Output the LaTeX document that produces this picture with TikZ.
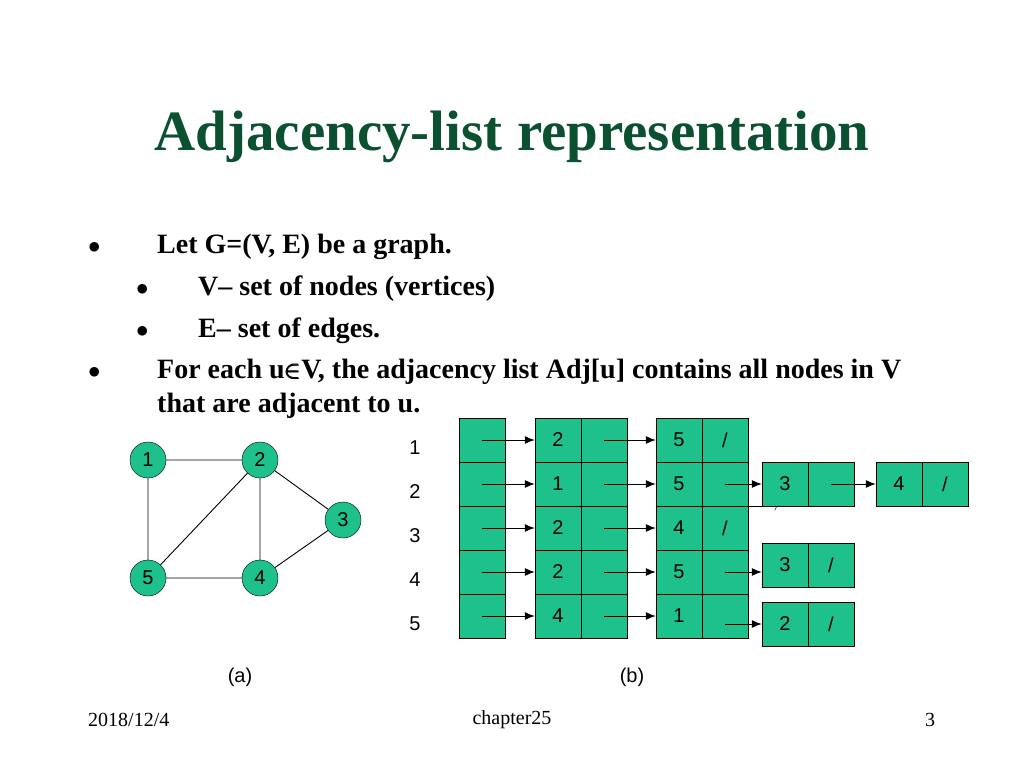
\documentclass[tikz,border=0pt]{standalone}
\usepackage{amsmath}
\usepackage{fontspec}
\setmainfont{Liberation Serif}
\newfontfamily\sans{Liberation Sans}
\usetikzlibrary{arrows.meta}
\definecolor{tgreen}{RGB}{12,80,50}
\definecolor{cellg}{RGB}{30,192,140}
\begin{document}
\begin{tikzpicture}[x=1pt,y=-1pt,
  cell/.style={draw=black,fill=cellg,minimum width=46pt,minimum height=44pt,inner sep=0pt,font=\sans\fontsize{20}{20}\selectfont},
  vert/.style={circle,draw=black,fill=cellg,minimum size=36pt,inner sep=0pt,font=\sans\fontsize{20}{20}\selectfont},
  ptr/.style={-{Latex[length=10pt,width=8pt]},line width=1pt,draw=black},
  edge/.style={line width=0.9pt,draw=black},
  btxt/.style={anchor=base west,font=\fontsize{28}{30}\selectfont\bfseries,inner sep=0pt},
  bul/.style={anchor=base west,font=\fontsize{28}{30}\selectfont,inner sep=0pt},
  lbl/.style={font=\sans\fontsize{20}{20}\selectfont,inner sep=0pt},
  foot/.style={font=\fontsize{20}{20}\selectfont,inner sep=0pt}]
\useasboundingbox (0,0) rectangle (1024,768);
\node[font=\fontsize{57}{57}\selectfont\bfseries,text=tgreen] (title) at (512,137) {Adjacency-list representation};
\node[bul] (b1) at (88,253) {$\bullet$};
\node[btxt] (t1) at (157,253) {Let G=(V, E) be a graph.};
\node[bul] (b2) at (136,295) {$\bullet$};
\node[btxt] (t2) at (198,295) {V– set of nodes (vertices)};
\node[bul] (b3) at (136,337) {$\bullet$};
\node[btxt] (t3) at (198,337) {E– set of edges.};
\node[bul] (b4) at (88,378) {$\bullet$};
\node[btxt] (t4) at (157,378) {For each u$\pmb{\in}$V, the adjacency list Adj[u] contains all nodes in V};
\node[btxt] (t5) at (157,412) {that are adjacent to u.};
% graph
\node[vert] (v1) at (148,460) {1};
\node[vert] (v2) at (260,460) {2};
\node[vert] (v3) at (343,520) {3};
\node[vert] (v4) at (260,578) {4};
\node[vert] (v5) at (148,578) {5};
\draw[edge] (v1)--(v2) (v1)--(v5) (v2)--(v5) (v2)--(v4) (v2)--(v3) (v3)--(v4) (v5)--(v4);
\node[lbl] (la) at (240,677) {(a)};
\node[lbl] (lb) at (632,677) {(b)};
% array
\foreach \i/\y in {1/440,2/484,3/528,4/572,5/616}{
  \node[lbl] (idx\i) at (415,\y+8) {\i};
  \node[cell] (a\i) at (482,\y) {};
}
\foreach \i/\y/\v/\w in {1/440/2/5,2/484/1/5,3/528/2/4,4/572/2/5,5/616/4/1}{
  \node[cell] (p\i) at (558,\y) {\v};
  \node[cell] (q\i) at (604,\y) {};
  \node[cell] (r\i) at (679,\y) {\w};
  \draw[ptr] (a\i.center) -- (p\i.west);
  \draw[ptr] (q\i.center) -- (r\i.west);
}
\node[cell] (s1) at (725,440) {/};
\node[cell] (s3) at (725,528) {/};
\node[cell] (s2) at (725,484) {};
\node[cell] (s4) at (725,572) {};
\node[cell] (s5) at (725,616) {};
\node[cell] (u1) at (785,484) {3};
\node[cell] (u1b) at (831,484) {};
\node[cell] (w1) at (899,484) {4};
\node[cell] (w1b) at (945,484) {/};
\node[cell] (u2) at (785,565) {3};
\node[cell] (u2b) at (831,565) {/};
\node[cell] (u3) at (785,624) {2};
\node[cell] (u3b) at (831,624) {/};
\draw[ptr] (s2.center) -- (u1.west);
\draw[ptr] (u1b.center) -- (w1.west);
\coordinate (c4) at (725,572);
\coordinate (c5) at (725,624);
\draw[ptr] (c4) -- (c4 -| u2.west);
\draw[ptr] (c5) -- (c5 -| u3.west);
\coordinate (art) at (u1.south west);
\draw (s2.south east) -- (art);
\draw ([xshift=15pt]art) -- ++(-2,4);
% footer
\node[foot,anchor=west] (f1) at (88,720) {2018/12/4};
\node[foot] (f2) at (512,720) {chapter25};
\node[foot] (f3) at (930,720) {3};
\end{tikzpicture}
\end{document}
